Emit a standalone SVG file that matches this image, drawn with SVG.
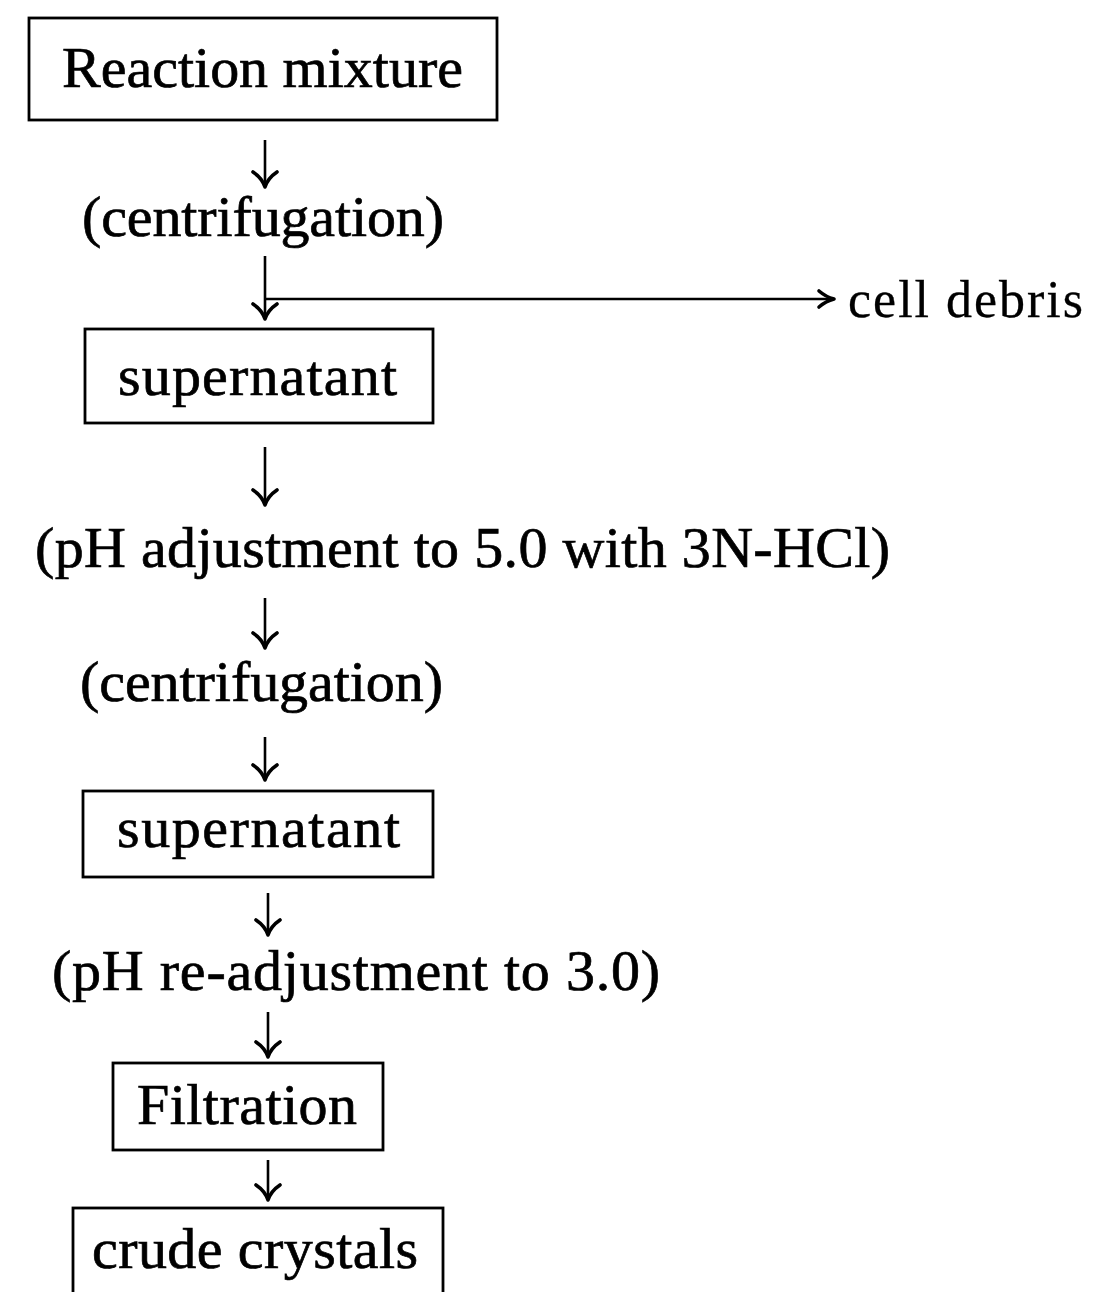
<svg xmlns="http://www.w3.org/2000/svg" width="1111" height="1292" viewBox="0 0 1111 1292">
  <style>
    .box { fill: none; stroke: #000; stroke-width: 2.8; }
    .lbl { font-family: "Liberation Serif", "Times New Roman", serif; font-size: 58px; fill: #000; stroke: #000; stroke-width: 0.7; }
    .side { font-size: 52px; stroke-width: 0.3; }
    .shaft { stroke: #000; stroke-width: 2.6; fill: none; }
    .head { stroke: #000; stroke-width: 3.6; fill: none; stroke-linecap: round; stroke-linejoin: round; }
  </style>
  <defs>
    <!-- downward arrowhead with curved barbs, tip at origin -->
    <path id="down-head" class="head" d="M -12 -15 Q -3 -9 0 0 Q 3 -9 12 -15"/>
    <!-- rightward arrowhead with curved barbs, tip at origin -->
    <path id="right-head" class="head" d="M -15 -8 Q -8 -2 0 0 Q -8 2 -15 8"/>
  </defs>
  <rect width="1111" height="1292" fill="#fff"/>

  <!-- connectors -->
  <g id="connectors">
    <line class="shaft" x1="265" y1="140" x2="265" y2="186"/>
    <use href="#down-head" x="265" y="187"/>

    <line class="shaft" x1="265" y1="256" x2="265" y2="318"/>
    <use href="#down-head" x="265" y="319"/>
    <line class="shaft" x1="265" y1="299" x2="832" y2="299"/>
    <use href="#right-head" x="834" y="299"/>

    <line class="shaft" x1="265" y1="447" x2="265" y2="504"/>
    <use href="#down-head" x="265" y="505"/>

    <line class="shaft" x1="265" y1="598" x2="265" y2="647"/>
    <use href="#down-head" x="265" y="648"/>

    <line class="shaft" x1="265" y1="737" x2="265" y2="779"/>
    <use href="#down-head" x="265" y="780"/>

    <line class="shaft" x1="268" y1="893" x2="268" y2="934"/>
    <use href="#down-head" x="268" y="935"/>

    <line class="shaft" x1="268" y1="1012" x2="268" y2="1056"/>
    <use href="#down-head" x="268" y="1057"/>

    <line class="shaft" x1="268" y1="1160" x2="268" y2="1199"/>
    <use href="#down-head" x="268" y="1200"/>
  </g>

  <!-- nodes -->
  <g id="reaction-mixture">
    <rect class="box" x="29" y="18" width="468" height="102"/>
    <text class="lbl" x="62" y="87" textLength="401" lengthAdjust="spacing">Reaction mixture</text>
  </g>

  <g id="centrifugation-1">
    <text class="lbl" x="82" y="236" textLength="362" lengthAdjust="spacing">(centrifugation)</text>
  </g>

  <g id="cell-debris">
    <text class="lbl side" x="848" y="317" textLength="235" lengthAdjust="spacing">cell debris</text>
  </g>

  <g id="supernatant-1">
    <rect class="box" x="85" y="329" width="348" height="94"/>
    <text class="lbl" x="118" y="395" textLength="279" lengthAdjust="spacing">supernatant</text>
  </g>

  <g id="ph-adjustment">
    <text class="lbl" x="35" y="567" textLength="855" lengthAdjust="spacing">(pH adjustment to 5.0 with 3N-HCl)</text>
  </g>

  <g id="centrifugation-2">
    <text class="lbl" x="80" y="701" textLength="363" lengthAdjust="spacing">(centrifugation)</text>
  </g>

  <g id="supernatant-2">
    <rect class="box" x="83" y="791" width="350" height="86"/>
    <text class="lbl" x="117" y="847" textLength="283" lengthAdjust="spacing">supernatant</text>
  </g>

  <g id="ph-readjustment">
    <text class="lbl" x="52" y="990" textLength="608" lengthAdjust="spacing">(pH re-adjustment to 3.0)</text>
  </g>

  <g id="filtration">
    <rect class="box" x="113" y="1063" width="270" height="87"/>
    <text class="lbl" x="137" y="1124" textLength="220" lengthAdjust="spacing">Filtration</text>
  </g>

  <g id="crude-crystals">
    <rect class="box" x="73" y="1208" width="370" height="100"/>
    <text class="lbl" x="92" y="1268" textLength="326" lengthAdjust="spacing">crude crystals</text>
  </g>
</svg>
